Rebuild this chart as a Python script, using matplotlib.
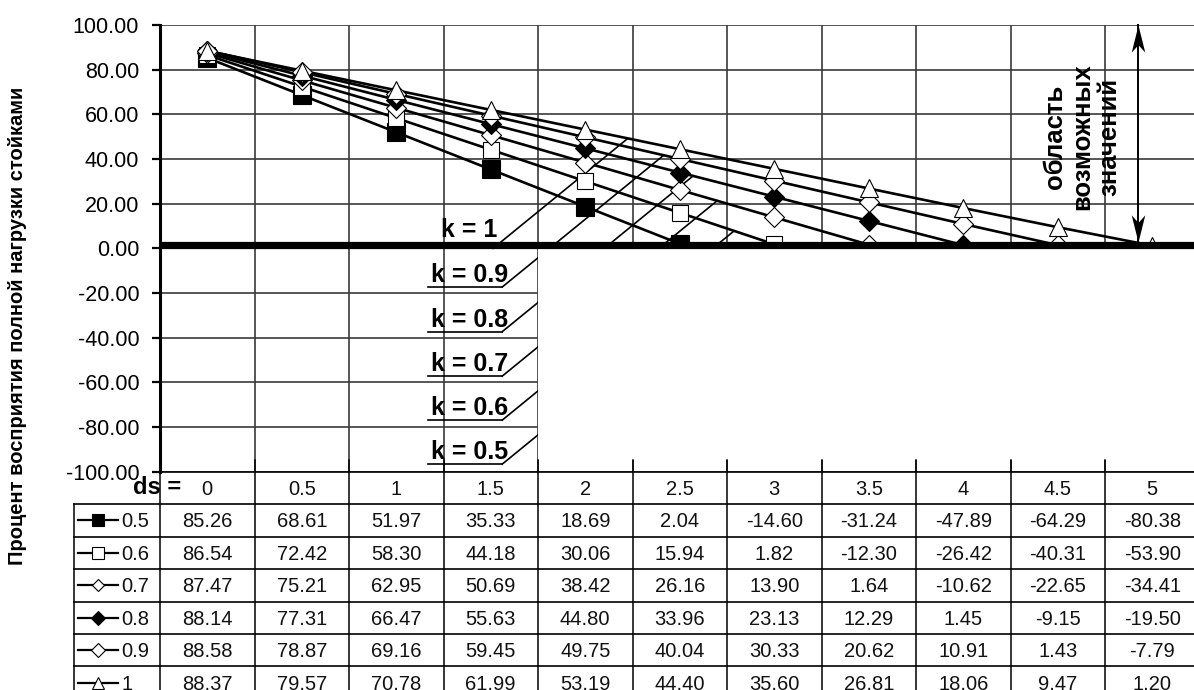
import numpy as np
import matplotlib
matplotlib.use('Agg')
import matplotlib.pyplot as plt
from matplotlib.path import Path
from matplotlib.patches import Rectangle

plt.rcParams['font.family'] = ['Liberation Sans', 'DejaVu Sans']

# ---------------- data ----------------
ds_labels = ['0', '0.5', '1', '1.5', '2', '2.5', '3', '3.5', '4', '4.5', '5']
k_names = ['0.5', '0.6', '0.7', '0.8', '0.9', '1']
k05 = [85.26, 68.61, 51.97, 35.33, 18.69, 2.04, -14.60, -31.24, -47.89, -64.29, -80.38]
k06 = [86.54, 72.42, 58.30, 44.18, 30.06, 15.94, 1.82, -12.30, -26.42, -40.31, -53.90]
k07 = [87.47, 75.21, 62.95, 50.69, 38.42, 26.16, 13.90, 1.64, -10.62, -22.65, -34.41]
k08 = [88.14, 77.31, 66.47, 55.63, 44.80, 33.96, 23.13, 12.29, 1.45, -9.15, -19.50]
k09 = [88.58, 78.87, 69.16, 59.45, 49.75, 40.04, 30.33, 20.62, 10.91, 1.43, -7.79]
k10 = [88.37, 79.57, 70.78, 61.99, 53.19, 44.40, 35.60, 26.81, 18.06, 9.47, 1.20]
series = [k05, k06, k07, k08, k09, k10]
y_ticks = [100, 80, 60, 40, 20, 0, -20, -40, -60, -80, -100]
y_label = 'Процент восприятия полной нагрузки стойками'
region_label = 'область\nвозможных\nзначений'

# ---------------- styles ----------------
mk = ['s', 's', 'D', 'D', 'D', '^']
mfc = ['black', 'white', 'white', 'black', 'white', 'white']
ms_chart = [13, 12, 10, 10, 10, 13]
ms_leg = [8, 8, 6, 7, 7.5, 9]

W, H = 1194, 690
fig = plt.figure(figsize=(W / 100, H / 100), dpi=100)

px_left, px_right = 160, 1194
px_top, px_bot = 25, 471.7
col_w = 94.5
xmin = -0.5
xmax = xmin + (px_right - px_left) / col_w

ax = fig.add_axes([px_left / W, (H - px_bot) / H, (px_right - px_left) / W, (px_bot - px_top) / H])
ax.set_xlim(xmin, xmax)
ax.set_ylim(-100, 100)
x = np.arange(len(ds_labels))

# grid
for yt in y_ticks:
    ax.axhline(yt, color='#3a3a3a', lw=1.2, zorder=1)
for j in range(len(ds_labels) + 1):
    ax.axvline(xmin + j, color='#3a3a3a', lw=1.2, zorder=1)

for s in ['top', 'right', 'bottom']:
    ax.spines[s].set_visible(False)
ax.spines['left'].set_linewidth(2.2)
ax.spines['left'].set_zorder(10)
ax.set_yticks(y_ticks)
ax.set_yticklabels(['%.2f' % v for v in y_ticks], fontsize=15.5)
ax.tick_params(axis='y', length=6, width=1.6, pad=9)
ax.set_xticks([])

# data lines and markers
for i, v in enumerate(series):
    ax.plot(x, v, color='black', lw=1.9, zorder=3)
for i, v in enumerate(series):
    ax.plot(x, v, ls='none', marker=mk[i], ms=ms_chart[i], mfc=mfc[i], mec='black', mew=0.8, zorder=5)

# leader lines for k labels
px_per_val = (px_bot - px_top) / 200.0
slope = 0.816 * col_w / px_per_val  # value units per index


def leader_end(x0, y0, xs, ys):
    xs = np.asarray(xs, float)
    ys = np.asarray(ys, float)
    f = ys - (y0 + slope * (xs - x0))
    for i in range(len(xs) - 1):
        if xs[i + 1] <= x0:
            continue
        if f[i] > 0 and f[i + 1] <= 0:
            t = f[i] / (f[i] - f[i + 1])
            return xs[i] + t, ys[i] + t * (ys[i + 1] - ys[i])
    return xs[-1], y0 + slope * (xs[-1] - x0)


under_x0 = (428 - 207) / col_w
under_x1 = (502 - 207) / col_w
under_y = [-96.6, -76.9, -57.2, -37.3, -17.3]  # k = 0.5 .. 0.9
for i in range(5):
    yu = under_y[i]
    ax.plot([under_x0, under_x1], [yu, yu], color='black', lw=1.2, zorder=4)
    xe, ye = leader_end(under_x1, yu, x, series[i])
    ax.plot([under_x1, xe], [yu, ye], color='black', lw=1.2, zorder=4)
    ax.text(under_x1 + 6 / col_w, yu + 2.3, 'k = ' + k_names[i], fontsize=18, fontweight='bold',
            ha='right', va='baseline', zorder=4)
# k = 1
k1_x0 = 3.025
xe, ye = leader_end(k1_x0, 0, x, series[5])
ax.plot([k1_x0, xe], [0, ye], color='black', lw=1.2, zorder=4)
ax.text((497 - 207) / col_w, 5.2, 'k = 1', fontsize=18, fontweight='bold', ha='right', va='baseline', zorder=4)

# white mask of the impossible region
ax.add_patch(Rectangle((3.5, -94.6), xmax - 3.5 + 1, 94.6, facecolor='white', edgecolor='none', zorder=6))

# thick zero line
ax.plot([xmin, xmax], [1.3, 1.3], color='black', lw=5.2, solid_capstyle='butt', zorder=7, clip_on=False)

# double arrow
arr_x = (1138 - 207) / col_w
ax.plot([arr_x, arr_x], [100, 2.8], color='black', lw=1.4, zorder=8, clip_on=False)
head_up = Path([(0, 0), (-0.5, -2.0), (0, -1.45), (0.5, -2.0), (0, 0)],
               [Path.MOVETO, Path.LINETO, Path.LINETO, Path.LINETO, Path.CLOSEPOLY])
head_dn = Path([(0, 0), (-0.5, 2.0), (0, 1.45), (0.5, 2.0), (0, 0)],
               [Path.MOVETO, Path.LINETO, Path.LINETO, Path.LINETO, Path.CLOSEPOLY])
ax.plot([arr_x], [100], marker=head_up, ms=39, color='black', mew=0, zorder=9, clip_on=False)
ax.plot([arr_x], [2.8], marker=head_dn, ms=39, color='black', mew=0, zorder=9, clip_on=False)

ax.text((1082 - 207) / col_w, 49.8, region_label, rotation=90, fontsize=18.5, fontweight='bold',
        ha='center', va='center', multialignment='center', linespacing=1.15, zorder=9)

# y label
fig.text(18 / W, 1 - 326 / H, y_label, rotation=90, fontsize=14.5, fontweight='bold', ha='center', va='center')

# ---------------- data table ----------------
row_h = 32.45
tab = fig.add_axes([px_left / W, 0, (px_right - px_left) / W, (H - px_bot) / H])
n_rows_vis = (H - px_bot) / row_h
tab.set_xlim(xmin, xmax)
tab.set_ylim(n_rows_vis, 0)
tab.axis('off')

leg_left = (74 - 207) / col_w
lc = 'black'
tab.plot([xmin, xmax], [0, 0], color=lc, lw=1.2, clip_on=False)
for r in range(1, 8):
    tab.plot([leg_left, xmax], [r, r], color=lc, lw=1.2, clip_on=False)
for j in range(len(ds_labels) + 1):
    tab.plot([xmin + j, xmin + j], [-0.35, 7], color=lc, lw=1.1, clip_on=False)
tab.plot([leg_left, leg_left], [1, 7], color=lc, lw=1.1, clip_on=False)

tab.text((133 - 207) / col_w, 0.5, 'ds =', fontsize=17, fontweight='bold', ha='left', va='center', zorder=5)
for j, lab in enumerate(ds_labels):
    tab.text(j, 0.55, lab, fontsize=14.5, ha='center', va='center', color='#111111')

lx0, lx1 = (78 - 207) / col_w, (118 - 207) / col_w
for i, v in enumerate(series):
    rc = i + 1.5
    tab.plot([lx0, lx1], [rc, rc], color='black', lw=1.6, clip_on=False)
    tab.plot([(lx0 + lx1) / 2], [rc], ls='none', marker=mk[i], ms=ms_leg[i], mfc=mfc[i], mec='black',
             mew=0.8, clip_on=False)
    tab.text((121 - 207) / col_w, rc + 0.05, k_names[i], fontsize=14.5, ha='left', va='center', color='#111111')
    for j, val in enumerate(v):
        tab.text(j, rc + 0.05, '%.2f' % val, fontsize=14.5, ha='center', va='center', color='#111111')

fig.savefig('out.png', dpi=100)
